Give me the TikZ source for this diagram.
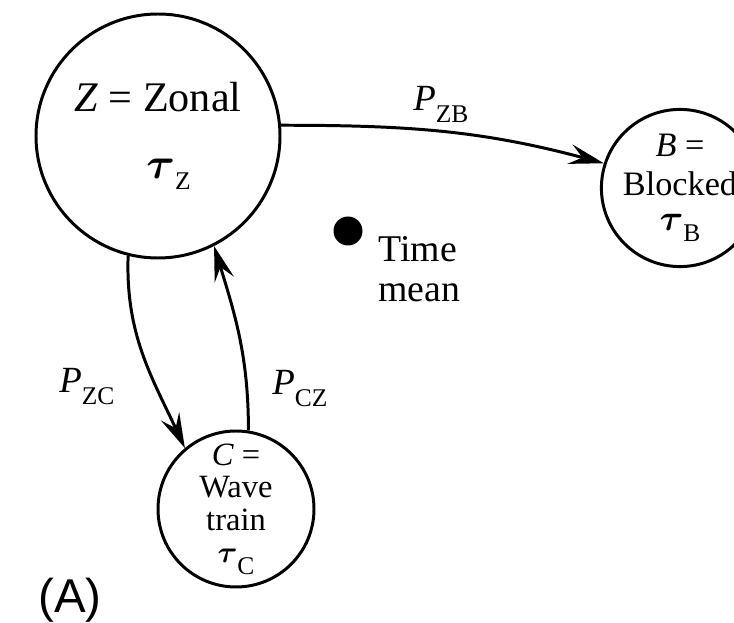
\documentclass[tikz,border=0pt]{standalone}
\usepackage{amsmath,amssymb}
\usepackage{fontspec}
\setmainfont{Liberation Serif}
\newfontfamily\panelfont{Liberation Sans}
\usepackage{tikz}
\usetikzlibrary{arrows.meta,positioning}
% lowered subscript in text font, heavy tau
\newcommand{\lsub}[1]{\raisebox{-6.5pt}{\fontsize{14.5}{14.5}\selectfont #1}}
\newcommand{\tautime}{\ensuremath{\boldsymbol{\tau}}}

\begin{document}
\begin{tikzpicture}[
  state/.style={circle, draw, line width=1.7pt, inner sep=0pt, align=center},
  lbl/.style={inner sep=0pt, font=\fontsize{21}{23}\selectfont},
  arr/.style={-{Stealth[length=7mm, width=4mm, inset=2.6mm]}, line width=1.7pt}]
\useasboundingbox (0,0) rectangle (14.68,12.46);
\clip (0,0) rectangle (14.68,12.46);
% ================= regimes =================
% --- zonal ---
\node[state, minimum size=4.88cm, font=\fontsize{24}{26}\selectfont] (Z) at (3.16,9.74)
  {\textit{Z} = Zonal\\[12pt] \hspace*{12pt}\tautime\lsub{Z}};
% --- blocked (cut at the right edge) ---
\node[state, minimum size=3.14cm, font=\fontsize{19.5}{22}\selectfont] (B) at (13.6,8.70)
  {\textit{B} =\\ Blocked\\[-2pt] \tautime\lsub{B}};
% --- wave train ---
\node[state, minimum size=3.12cm, font=\fontsize{18.5}{18.5}\selectfont] (C) at (4.72,2.28)
  {\textit{C} =\\ Wave\\ train\\ \tautime\lsub{C}};
% time mean
\node[circle, fill, minimum size=0.58cm, inner sep=0pt] (mean) at (6.96,7.84) {};
\node[lbl, anchor=north west, align=left, font=\fontsize{21.5}{22.7}\selectfont]
  (meanlbl) at (7.56,7.74) {Time\\mean};
% ================= transitions =================
\draw[arr] (Z.5)   to[out=0, in=165]   (B.162);
\draw[arr] (Z.256) to[out=268, in=115] (C.130);
\draw[arr] (C.81)  to[out=90, in=-73]  (Z.297);
\node[lbl, anchor=base west] (pzb) at (8.26,10.24) {\textit{P}\lsub{ZB}};
\node[lbl, anchor=base west] (pzc) at (1.18,4.60)  {\textit{P}\lsub{ZC}};
\node[lbl, anchor=base west] (pcz) at (5.44,4.56)  {\textit{P}\lsub{CZ}};
% panel tag
\node[inner sep=0pt, anchor=base west, font=\panelfont\fontsize{27}{27}\selectfont]
  (tag) at (0.76,0.22) {(A)};
\end{tikzpicture}
\end{document}
